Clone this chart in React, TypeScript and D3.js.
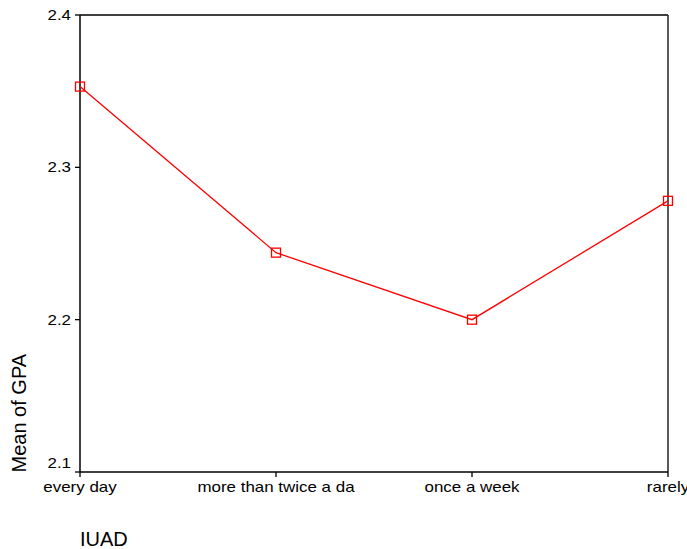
import React from "react";
import * as d3 from "d3";

const categories = ["every day", "more than twice a da", "once a week", "rarely"];
const gpaMeans = [2.353, 2.244, 2.2, 2.278];
const yTicks = [2.1, 2.2, 2.3, 2.4];
const xTitle = "IUAD";
const yTitle = "Mean of GPA";

const W = 687;
const H = 549;
const left = 80;
const right = 668;
const top = 15;
const bottom = 472;
const FONT = "'Liberation Sans', Arial, sans-serif";
const SX = 1.16;

export default function App() {
  const x = d3.scalePoint<string>().domain(categories).range([left, right]);
  const y = d3.scaleLinear().domain([2.1, 2.4]).range([bottom, top]);
  const line = d3
    .line<number>()
    .x((_, i) => x(categories[i]) as number)
    .y((d) => y(d));
  const ms = 9;

  return (
    <div style={{ position: "fixed", left: 0, top: 0 }}>
      <svg width={W} height={H} style={{ display: "block", background: "#fff" }}>
        {/* frame */}
        <line x1={left} x2={right} y1={top} y2={top} stroke="#000" strokeWidth={1.5} />
        <line x1={right} x2={right} y1={top} y2={bottom} stroke="#222" strokeWidth={1.5} />
        <line x1={left} x2={left} y1={top} y2={bottom} stroke="#000" strokeWidth={1.5} />
        <line x1={left} x2={right} y1={bottom} y2={bottom} stroke="#000" strokeWidth={1.5} />
        {/* y ticks */}
        {yTicks.map((t) => {
          const yy = y(t);
          const ly = Math.min(yy, bottom - 9);
          return (
            <g key={t}>
              <line x1={left - 5} x2={left} y1={yy} y2={yy} stroke="#000" strokeWidth={1.3} />
              <text
                transform={`translate(71,${ly}) scale(${SX},1)`}
                textAnchor="end"
                dominantBaseline="central"
                fontFamily={FONT}
                fontSize={14.6}
                fill="#000"
              >
                {t.toFixed(1)}
              </text>
            </g>
          );
        })}
        {/* x ticks */}
        {categories.map((c) => {
          const xx = x(c) as number;
          return (
            <g key={c}>
              <line x1={xx} x2={xx} y1={bottom} y2={bottom + 5} stroke="#000" strokeWidth={1.3} />
              <text
                transform={`translate(${xx},492) scale(${SX},1)`}
                textAnchor="middle"
                fontFamily={FONT}
                fontSize={14.6}
                fill="#000"
              >
                {c}
              </text>
            </g>
          );
        })}
        {/* titles */}
        <text x={80} y={545.5} fontFamily={FONT} fontSize={20} fill="#000">
          {xTitle}
        </text>
        <text
          transform={`translate(25.5,472.5) rotate(-90)`}
          fontFamily={FONT}
          fontSize={20}
          fill="#000"
        >
          {yTitle}
        </text>
        {/* series */}
        <path d={line(gpaMeans) || ""} fill="none" stroke="#ff0000" strokeWidth={1.3} />
        {gpaMeans.map((v, i) => (
          <rect
            key={i}
            x={(x(categories[i]) as number) - ms / 2}
            y={y(v) - ms / 2}
            width={ms}
            height={ms}
            fill="none"
            stroke="#ff0000"
            strokeWidth={1.3}
          />
        ))}
      </svg>
    </div>
  );
}
